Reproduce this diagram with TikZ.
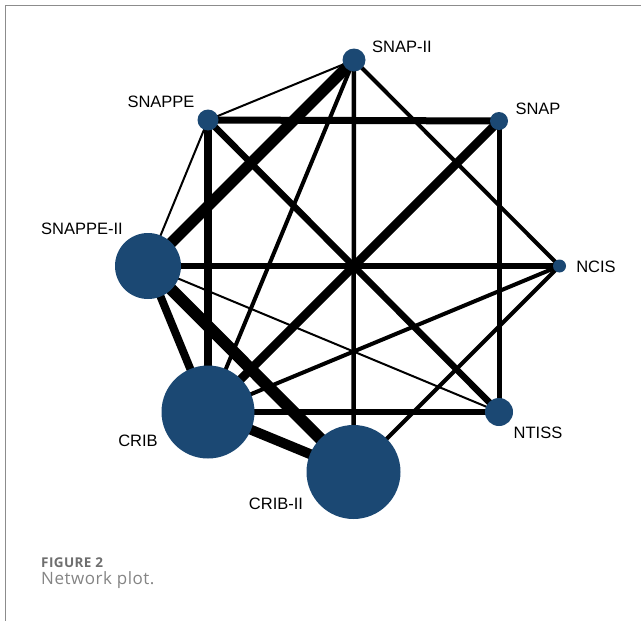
\documentclass[tikz,border=0pt]{standalone}
\usepackage{fontspec}
\setmainfont{Liberation Sans}
\newfontfamily\captionfont[LetterSpace=3]{Open Sans}
\usetikzlibrary{backgrounds}
\definecolor{nodeblue}{RGB}{27,72,115}
\definecolor{framegray}{RGB}{140,140,140}
\definecolor{capgray}{RGB}{110,110,110}

\begin{document}
\begin{tikzpicture}[x=1pt, y=-1pt,
			study/.style={circle, fill=nodeblue, inner sep=0pt},
			lbl/.style={inner sep=0pt, font=\fontsize{16.5}{19}\selectfont},
			link/.style={line width=#1}]
			\useasboundingbox (0,0) rectangle (641,621);
			% page frame
			\draw[framegray, line width=1pt] (641,5.5) -- (5.5,5.5) -- (5.5,621);
			% studies
			\node[study, minimum size=23pt] (snapii) at (354,60) {};
			\node[study, minimum size=21pt] (snappe) at (208,120) {};
			\node[study, minimum size=18pt] (snap) at (499,121) {};
			\node[study, minimum size=13pt] (ncis) at (559.5,266) {};
			\node[study, minimum size=28pt] (ntiss) at (499,412) {};
			\node[study, minimum size=66pt] (snappeii) at (148,266) {};
			\node[study, minimum size=93pt] (crib) at (208,412) {};
			\node[study, minimum size=94pt] (cribii) at (353.5,472) {};
			% labels
			\node[lbl, anchor=west] (lsnapii) at (372,46.5) {SNAP-II};
			\node[lbl] (lsnappe) at (161,102) {SNAPPE};
			\node[lbl] (lsnap) at (538,109) {SNAP};
			\node[lbl] (lncis) at (596,266.5) {NCIS};
			\node[lbl] (lntiss) at (538,433) {NTISS};
			\node[lbl] (lsnappeii) at (82,229) {SNAPPE-II};
			\node[lbl] (lcrib) at (138,441) {CRIB};
			\node[lbl] (lcribii) at (276,504) {CRIB-II};
			% comparisons
			\begin{scope}[on background layer]
				\draw[link=2] (snappe.center) -- (snapii.center);
				\draw[link=7] (snappe.center) -- (snap.center);
				\draw[link=8] (snappe.center) -- (crib.center);
				\draw[link=2] (snappe.center) -- (snappeii.center);
				\draw[link=6.5] (snappe.center) -- (ntiss.center);
				\draw[link=11] (snapii.center) -- (snappeii.center);
				\draw[link=4] (snapii.center) -- (crib.center);
				\draw[link=4.5] (snapii.center) -- (cribii.center);
				\draw[link=4] (snapii.center) -- (ncis.center);
				\draw[link=8.5] (snap.center) -- (crib.center);
				\draw[link=5] (snap.center) -- (ntiss.center);
				\draw[link=6.5] (snappeii.center) -- (ncis.center);
				\draw[link=8] (snappeii.center) -- (crib.center);
				\draw[link=12] (snappeii.center) -- (cribii.center);
				\draw[link=2] (snappeii.center) -- (ntiss.center);
				\draw[link=4] (crib.center) -- (ncis.center);
				\draw[link=6] (crib.center) -- (ntiss.center);
				\draw[link=10] (crib.center) -- (cribii.center);
				\draw[link=4] (cribii.center) -- (ncis.center);
			\end{scope}
			% caption
			\node[anchor=base west, inner sep=0pt, text=capgray, font=\captionfont\bfseries\fontsize{13.5}{16}\selectfont] (figno) at (41,567) {FIGURE 2};
			\node[anchor=base west, inner sep=0pt, text=capgray!85, font=\captionfont\fontsize{17}{20}\selectfont] (figtitle) at (41,584) {Network plot.};
		\end{tikzpicture}
\end{document}
